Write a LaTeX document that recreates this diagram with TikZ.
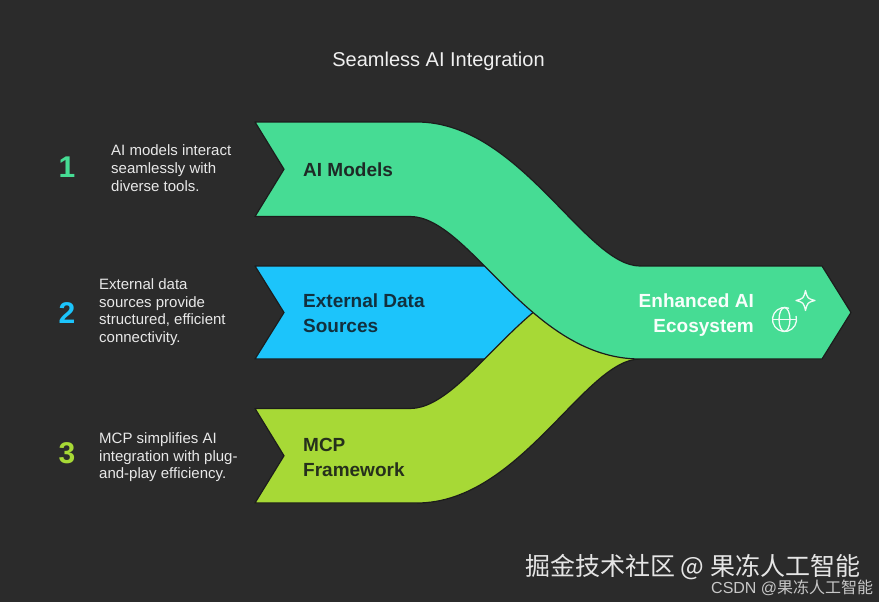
\documentclass[tikz,border=0pt]{standalone}
\usepackage{fontspec}
\setmainfont{Liberation Sans}
\newfontfamily\cjkfont{Noto Sans CJK SC}
\definecolor{bg}{HTML}{2B2B2B}
\definecolor{cgreen}{HTML}{46DC94}
\definecolor{cblue}{HTML}{1CC4FB}
\definecolor{clime}{HTML}{A7D936}
\definecolor{edge}{HTML}{1C1C1C}
\definecolor{darktxt}{HTML}{1E2A26}
\definecolor{darkblue}{HTML}{12303E}
\definecolor{darklime}{HTML}{26301C}
\definecolor{desctxt}{HTML}{E8E8E8}
\tikzset{
  band/.style={draw=edge, line width=1.2pt, line join=round},
  lbl/.style={inner sep=0pt, font=\bfseries\fontsize{19}{25}\selectfont, text=darktxt},
  desc/.style={inner sep=0pt, font=\fontsize{15}{17.8}\selectfont, text=desctxt, align=left},
  num/.style={inner sep=0pt, font=\bfseries\fontsize{30}{30}\selectfont},
  iconline/.style={draw=white!92!cgreen, line width=1.3pt, line cap=round, line join=round}
}
\begin{document}
\begin{tikzpicture}[x=1pt,y=-1pt]
\fill[bg] (0,0) rectangle (879,602);
\useasboundingbox (0,0) rectangle (879,602);

% title
\node[inner sep=0pt, anchor=base, font=\fontsize{20}{24}\selectfont, text=white!94!black] (title) at (438.5,66.7) {Seamless AI Integration};

% blue band (bottom layer)
\path[band, fill=cblue] (255,266) -- (560,266) -- (560,359) -- (255,359) -- (284,312.5) -- cycle;
% lime band
\path[band, fill=clime] (255,503) -- (417,503) .. controls (520,503) and (585,359) .. (640,359)
  -- (640,266) .. controls (530,266) and (470,408.5) .. (410,408.5) -- (255,408.5) -- (284,455.75) -- cycle;
% green band (top layer)
\path[band, fill=cgreen] (255,122) -- (417,122) .. controls (520,122) and (585,266) .. (640,266)
  -- (822,266) -- (851,312.5) -- (822,359) -- (640,359) .. controls (530,359) and (470,216.5) .. (410,216.5)
  -- (255,216.5) -- (284,169.25) -- cycle;

% band labels (base anchor = baseline of the last line)
\node[lbl, anchor=base west] (aim) at (303,176) {AI Models};
\node[lbl, anchor=base west, align=left, text=darkblue] (ext) at (303,332) {External Data\\Sources};
\node[lbl, anchor=base west, align=left, text=darklime] (mcp) at (303,476) {MCP\\Framework};
\node[lbl, anchor=base east, align=right, text=white!96!cgreen] (eco) at (754,332) {Enhanced AI\\Ecosystem};

% globe + sparkle icon
\coordinate (gc) at (784.5,319.5);
\draw[iconline] (gc) ++(-15:12) arc[start angle=-15, end angle=290, radius=12];
\draw[iconline] (gc) ellipse[x radius=5.5, y radius=12];
\draw[iconline] ([xshift=-12pt]gc) -- ([xshift=12pt]gc);
\coordinate (sp) at (805.5,300.5);
\draw[iconline] ([yshift=-10pt]sp) .. controls ([xshift=2pt,yshift=-2pt]sp) .. ([xshift=9.5pt]sp)
  .. controls ([xshift=2pt,yshift=2pt]sp) .. ([yshift=10pt]sp)
  .. controls ([xshift=-2pt,yshift=2pt]sp) .. ([xshift=-9.5pt]sp)
  .. controls ([xshift=-2pt,yshift=-2pt]sp) .. cycle;

% numbers
\node[num, text=cgreen] (n1) at (67,167.5) {1};
\node[num, text=cblue] (n2) at (67,313) {2};
\node[num, text=clime] (n3) at (67,453) {3};

% descriptions (base anchor = baseline of the last line)
\node[desc, anchor=base west] (d1) at (111,191.3) {AI models interact\\seamlessly with\\diverse tools.};
\node[desc, anchor=base west] (d2) at (99,342.7) {External data\\sources provide\\structured, efficient\\connectivity.};
\node[desc, anchor=base west] (d3) at (99,478.9) {MCP simplifies AI\\integration with plug-\\and-play efficiency.};

% watermarks
\node[inner sep=0pt, anchor=base west, font=\cjkfont\fontsize{25}{25}\selectfont, text=white!90!black] (wm1) at (525,575.5) {掘金技术社区 @ 果冻人工智能};
\node[inner sep=0pt, anchor=base west, font=\cjkfont\fontsize{16}{16}\selectfont, text=white!78!black] (wm2) at (711,593) {{\rmfamily CSDN @}果冻人工智能};
\end{tikzpicture}
\end{document}
